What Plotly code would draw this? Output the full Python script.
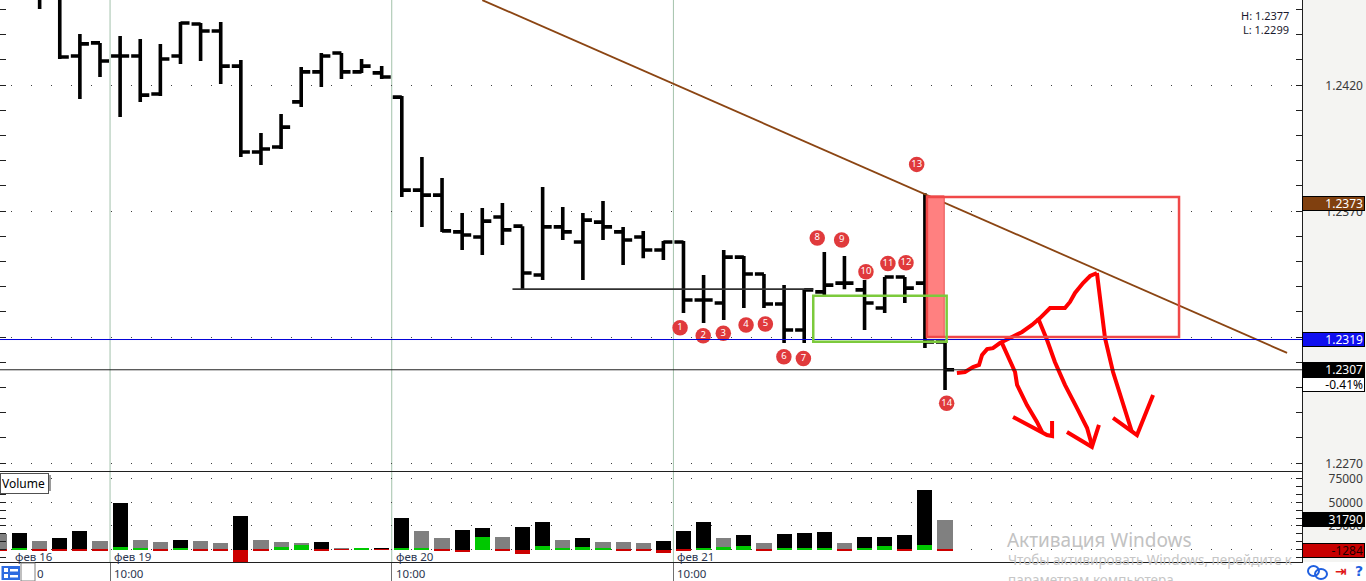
import plotly.graph_objects as go

# ---------------- data ----------------
bar_index = list(range(48))  # hourly bars: фев 16 18:00 ... фев 21 23:00

opens = [1.2458, 1.2460, 1.2458, 1.2457, 1.24315, 1.24367, 1.24315, 1.24315, 1.24164, 1.24315,
         1.24442, 1.24414, 1.24275, 1.23934, 1.23954, 1.24133, 1.24252, 1.24327, 1.24252, 1.24248,
         1.24152, 1.23783, 1.23763, 1.23617, 1.23597, 1.23676, 1.23640, 1.23446, 1.23637, 1.23577,
         1.23656, 1.23617, 1.23597, 1.23545, 1.23577, 1.23347, 1.23335, 1.23517, 1.23450, 1.23331,
         1.23228, 1.23379, 1.23414, 1.23387, 1.23315, 1.23438, 1.23414, 1.23180]
highs = [1.2466, 1.2468, 1.2462, 1.2460, 1.24402, 1.24367, 1.24394, 1.24383, 1.24363, 1.24450,
         1.24446, 1.24450, 1.24299, 1.24010, 1.24085, 1.24271, 1.24327, 1.24327, 1.24303, 1.24275,
         1.24156, 1.23914, 1.23831, 1.23692, 1.23712, 1.23732, 1.23640, 1.23795, 1.23716, 1.23692,
         1.23740, 1.23637, 1.23621, 1.23581, 1.23581, 1.23446, 1.23545, 1.23521, 1.23450, 1.23406,
         1.23390, 1.23537, 1.23521, 1.23426, 1.23438, 1.23438, 1.23770, 1.23180]
lows = [1.2455, 1.2456, 1.24502, 1.24303, 1.24144, 1.24232, 1.24073, 1.24133, 1.24156, 1.24283,
        1.24295, 1.24204, 1.23914, 1.23883, 1.23946, 1.24113, 1.24192, 1.24224, 1.24248, 1.24224,
        1.23756, 1.23637, 1.23617, 1.23545, 1.23525, 1.23565, 1.23390, 1.23426, 1.23585, 1.23426,
        1.23585, 1.23486, 1.23513, 1.23506, 1.23295, 1.23256, 1.23267, 1.23315, 1.23315, 1.23176,
        1.23176, 1.23359, 1.23390, 1.23228, 1.23295, 1.23335, 1.23156, 1.22990]
closes = [1.2460, 1.2458, 1.2456, 1.24311, 1.24363, 1.24295, 1.24315, 1.24160, 1.24303, 1.24446,
          1.24414, 1.24275, 1.23934, 1.23946, 1.24033, 1.24252, 1.24315, 1.24252, 1.24275, 1.24232,
          1.23783, 1.23763, 1.23621, 1.23605, 1.23660, 1.23625, 1.23454, 1.23637, 1.23617, 1.23664,
          1.23637, 1.23585, 1.23545, 1.23577, 1.23347, 1.23347, 1.23517, 1.23450, 1.23331, 1.23228,
          1.23387, 1.23406, 1.23414, 1.23335, 1.23438, 1.23394, 1.23180, 1.23070]

volume = [16300, 17800, 8800, 12000, 19500, 8800, 49700, 9900, 7800, 9900,
          8800, 6700, 35400, 9900, 7800, 6700, 7800, 1400, 1400, 1400,
          33300, 19800, 12000, 20500, 22700, 13100, 23700, 29000, 9900, 12000,
          7800, 7800, 6700, 8800, 19500, 29000, 12000, 15200, 6700, 16300,
          17300, 18400, 6700, 13100, 13100, 15200, 63100, 31790]
volume_colors = ['g', 'k', 'g', 'k', 'k', 'g', 'k', 'g', 'g', 'k',
                 'g', 'g', 'k', 'g', 'g', 'g', 'k', 'g', 'g', 'k',
                 'k', 'g', 'g', 'k', 'k', 'g', 'k', 'k', 'g', 'k',
                 'g', 'g', 'g', 'k', 'k', 'k', 'g', 'k', 'g', 'k',
                 'k', 'k', 'g', 'k', 'k', 'k', 'k', 'g']
delta = [-700, 1800, -700, -700, -1800, -700, 2900, 1800, -700, 1800,
         -700, -700, -15000, -700, 2400, 4600, -700, -400, 1400, -300,
         1800, 2100, -1400, -2400, 13100, -700, -4600, 3500, 1400, 2400,
         1400, -1400, -700, -3500, -1000, 1400, 2400, 3500, -700, 1400,
         1400, 1400, -700, 1400, 3500, -1400, 4600, -1284]

price_tick_vals = [1.2420, 1.2370, 1.2320, 1.2270]
price_tick_text = ['1.2420', '1.2370', '1.2320', '1.2270']
vol_tick_vals = [75000, 50000, 25000]
vol_tick_text = ['75000', '50000', '25000']

day_sep_x = [5.5, 19.5, 33.5]
day_labels = ['фев 16', 'фев 19', 'фев 20', 'фев 21']
day_label_x = [0.6, 5.5, 19.5, 33.5]
time_labels = ['10:00', '10:00', '10:00']

high_text = 'H: 1.2377'
low_text = 'L: 1.2299'
trend_level = 1.2373
blue_level = 1.2319
last_close = 1.2307
change_text = '-0.41%'
last_volume = 31790
last_delta = -1284

trend_x = [24.0, 64.0]
trend_y = [1.24537, 1.23137]
support_x = [25.5, 40.45]
support_y = [1.2339, 1.2339]
green_box_x = [40.45, 47.08]
green_box_y = [1.23181, 1.23364]
pink_box_x = [46.09, 46.96]
pink_box_y = [1.2320, 1.2376]
red_box_x = [46.1, 58.63]
red_box_y = [1.2320, 1.23756]

marker_num = [str(n) for n in range(1, 15)]
marker_x = [33.83, 34.98, 35.98, 37.11, 38.07, 38.99, 39.96, 40.65, 41.86, 43.07, 44.16, 45.06, 45.59, 47.08]
marker_y = [1.23237, 1.23205, 1.23215, 1.23248, 1.23252, 1.23122, 1.23115, 1.23593, 1.23585,
            1.23459, 1.23492, 1.23495, 1.23885, 1.22937]

# hand-drawn red path (index, price)
draw_curve_x = [47.59, 47.99, 48.39, 48.69, 48.84, 49.09, 49.38, 49.73, 50.23, 50.83, 51.32, 51.72,
                52.22, 52.96, 53.21, 53.46, 53.86, 54.21, 54.55]
draw_curve_y = [1.23057, 1.23061, 1.23081, 1.23089, 1.23129, 1.23152, 1.23156, 1.23176, 1.23196,
                1.23220, 1.23248, 1.23275, 1.23315, 1.23315, 1.23339, 1.23375, 1.23414, 1.23442, 1.23454]
arrow1_x = [49.83, 50.08, 50.48, 50.58, 51.07, 51.57, 51.82]
arrow1_y = [1.23176, 1.23129, 1.23061, 1.23010, 1.22930, 1.22863, 1.22823]
head1_x = [50.38, 52.07, 52.32, 52.32]
head1_y = [1.22883, 1.22811, 1.22807, 1.22867]
arrow2_x = [51.62, 52.07, 52.46, 52.96, 53.56, 54.06, 54.30]
arrow2_y = [1.23275, 1.23188, 1.23101, 1.23010, 1.22918, 1.22839, 1.22771]
head2_x = [53.06, 54.30, 54.65]
head2_y = [1.22823, 1.22764, 1.22851]
arrow3_x = [54.55, 54.70, 54.95, 55.35, 55.84, 56.29]
arrow3_y = [1.23454, 1.23355, 1.23196, 1.23061, 1.22942, 1.22823]
head3_x = [55.35, 56.54, 57.34]
head3_y = [1.22879, 1.22811, 1.22970]

watermark_1 = 'Активация Windows'
watermark_2 = 'Чтобы активировать Windows, перейдите к'
watermark_3 = 'параметрам компьютера'

# ---------------- layout geometry ----------------
W, H = 1366, 581
ML, MR, MT, MB = 0, 64, 0, 19
PW, PH = W - ML - MR, H - MT - MB          # 1302 x 562
PRICE_TOP, PRICE_BOT = 0, 471
VOL_TOP, VOL_BOT = 472, 562
price_dom = [(PH - PRICE_BOT) / PH, 1.0]
vol_dom = [0.0, (PH - VOL_TOP) / PH]
x_range = [0.03, 0.03 + PW / 20.12]
price_range = [1.226683, 1.245373]
vol_range = [-13275, 82300]

FONT = 'Noto Sans'


def px(xp):
    return xp / PW


def py(yp):
    return (PH - yp) / PH


fig = go.Figure()

# trend line (behind bars)
fig.add_trace(go.Scatter(x=trend_x, y=trend_y, mode='lines', line=dict(color='#8b4513', width=1.8),
                         hoverinfo='skip', showlegend=False, xaxis='x', yaxis='y'))
fig.add_trace(go.Scatter(x=support_x, y=support_y, mode='lines', line=dict(color='#303030', width=1.6),
                         hoverinfo='skip', showlegend=False, xaxis='x', yaxis='y'))

fig.add_trace(go.Ohlc(x=bar_index, open=opens, high=highs, low=lows, close=closes,
                      increasing=dict(line=dict(color='#000000', width=3.6)),
                      decreasing=dict(line=dict(color='#000000', width=3.6)),
                      tickwidth=0.45, hoverinfo='skip', showlegend=False, xaxis='x', yaxis='y'))

# volume
cmap = {'k': '#000000', 'g': '#808080'}
fig.add_trace(go.Bar(x=bar_index, y=volume, width=0.75,
                     marker=dict(color=[cmap[c] for c in volume_colors], line=dict(width=0)),
                     hoverinfo='skip', showlegend=False, xaxis='x2', yaxis='y2'))
fig.add_trace(go.Bar(x=bar_index, y=delta, width=0.75,
                     marker=dict(color=['#00c800' if d > 0 else '#cc0000' for d in delta], line=dict(width=0)),
                     hoverinfo='skip', showlegend=False, xaxis='x2', yaxis='y2'))

# hand drawing
def join(*parts):
    out = []
    for i, p in enumerate(parts):
        if i:
            out.append(None)
        out.extend(p)
    return out

fig.add_trace(go.Scatter(
    x=join(draw_curve_x, arrow1_x, head1_x, arrow2_x, head2_x, arrow3_x, head3_x),
    y=join(draw_curve_y, arrow1_y, head1_y, arrow2_y, head2_y, arrow3_y, head3_y),
    mode='lines', line=dict(color='#ff0000', width=4), connectgaps=False,
    hoverinfo='skip', showlegend=False, xaxis='x', yaxis='y'))

# numbered markers
fig.add_trace(go.Scatter(x=marker_x, y=marker_y, mode='markers+text', text=marker_num,
                         textposition='middle center',
                         textfont=dict(family=FONT, size=9.5, color='white'),
                         marker=dict(size=15.5, color='#e03a3c', line=dict(width=0)),
                         cliponaxis=False, hoverinfo='skip', showlegend=False, xaxis='x', yaxis='y'))

shapes = []
# right axis area background
shapes.append(dict(type='rect', xref='paper', yref='paper', x0=1, x1=W / PW, y0=0, y1=1,
                   fillcolor='#f4f4f2', line=dict(width=0), layer='below'))
# day separators
for xs in day_sep_x:
    shapes.append(dict(type='line', xref='x', yref='paper', x0=xs, x1=xs, y0=0, y1=1,
                       line=dict(color='#a3c2ab', width=1), layer='below'))
# horizontal levels
shapes.append(dict(type='line', xref='paper', yref='y', x0=0, x1=1, y0=blue_level, y1=blue_level,
                   line=dict(color='#0000d8', width=1), layer='above'))
shapes.append(dict(type='line', xref='paper', yref='y', x0=0, x1=1, y0=last_close, y1=last_close,
                   line=dict(color='#202020', width=1), layer='above'))
# boxes
shapes.append(dict(type='rect', xref='x', yref='y', x0=pink_box_x[0], x1=pink_box_x[1],
                   y0=pink_box_y[0], y1=pink_box_y[1], fillcolor='#ff8080',
                   line=dict(color='#e85050', width=1), layer='above'))
shapes.append(dict(type='rect', xref='x', yref='y', x0=red_box_x[0], x1=red_box_x[1],
                   y0=red_box_y[0], y1=red_box_y[1], line=dict(color='#f04848', width=2.5), layer='above'))
shapes.append(dict(type='rect', xref='x', yref='y', x0=green_box_x[0], x1=green_box_x[1],
                   y0=green_box_y[0], y1=green_box_y[1], line=dict(color='#7cca3c', width=2.5), layer='above'))
# volume label shadow
shapes.append(dict(type='rect', xref='paper', yref='paper', x0=px(2), x1=px(51), y0=py(491), y1=py(475),
                   fillcolor='#9a9a9a', line=dict(width=0), layer='above'))
# bottom-left icons
shapes.append(dict(type='rect', xref='paper', yref='paper', x0=px(21), x1=px(35), y0=py(581), y1=py(563),
                   fillcolor='white', line=dict(color='#808080', width=1), layer='above'))
shapes.append(dict(type='rect', xref='paper', yref='paper', x0=px(1.5), x1=px(20), y0=py(580), y1=py(566),
                   fillcolor='#2d6be0', line=dict(width=0), layer='above'))
for (a, b, c, d) in [(4, 8, 568, 572), (10, 18, 569, 571.5), (4, 8, 574, 578), (10, 18, 575, 577.5)]:
    shapes.append(dict(type='rect', xref='paper', yref='paper', x0=px(a), x1=px(b), y0=py(d), y1=py(c),
                       fillcolor='white', line=dict(width=0), layer='above'))
# bottom-right link icon
shapes.append(dict(type='circle', xref='paper', yref='paper', x0=px(1308), x1=px(1319), y0=py(576), y1=py(566),
                   line=dict(color='#2060e0', width=2), layer='above'))
shapes.append(dict(type='circle', xref='paper', yref='paper', x0=px(1315), x1=px(1327), y0=py(579), y1=py(569),
                   line=dict(color='#2060e0', width=2), layer='above'))

ann = []


def axis_label(y, yref, text, bg='rgba(0,0,0,0)', fg='#3a3a3a', border='rgba(0,0,0,0)', yshift=0):
    return dict(xref='paper', x=1, xanchor='left', yref=yref, y=y, yanchor='middle', yshift=yshift,
                text=text, showarrow=False, width=59, height=11, align='right', valign='middle',
                bgcolor=bg, bordercolor=border, borderwidth=1, borderpad=1,
                font=dict(family=FONT, size=12, color=fg))


for v, t in zip(price_tick_vals, price_tick_text):
    ann.append(axis_label(v, 'y', t))
for v, t in zip(vol_tick_vals, vol_tick_text):
    ann.append(axis_label(v, 'y2', t))
ann.append(axis_label(trend_level, 'y', f'{trend_level:.4f}', bg='#80400f', fg='white', border='#000000'))
ann.append(axis_label(blue_level, 'y', f'{blue_level:.4f}', bg='#1010f0', fg='white', border='#000000'))
ann.append(axis_label(last_close, 'y', f'{last_close:.4f}', bg='#000000', fg='white', border='#000000'))
ann.append(axis_label(last_close, 'y', change_text, bg='white', fg='#000000', border='#000000', yshift=-15))
ann.append(axis_label(last_volume, 'y2', str(last_volume), bg='#000000', fg='white', border='#000000'))
ann.append(axis_label(last_delta, 'y2', str(last_delta), bg='#c80000', fg='#1a0000', border='#000000'))

# H / L
ann.append(dict(xref='paper', x=1, xshift=-11, xanchor='right', yref='paper', y=1, yshift=-15,
                yanchor='middle', text=high_text, showarrow=False,
                font=dict(family=FONT, size=11, color='#1a1a2e')))
ann.append(dict(xref='paper', x=1, xshift=-11, xanchor='right', yref='paper', y=1, yshift=-29,
                yanchor='middle', text=low_text, showarrow=False,
                font=dict(family=FONT, size=11, color='#1a1a2e')))

# Volume title
ann.append(dict(xref='paper', x=0, xanchor='left', yref='paper', y=vol_dom[1], yshift=-1, yanchor='top',
                text='Volume', showarrow=False, bgcolor='white', bordercolor='#505050', borderwidth=1,
                borderpad=1, width=45, align='left', font=dict(family=FONT, size=12, color='#000000')))

# day labels
for xv, t in zip(day_label_x, day_labels):
    ann.append(dict(xref='x', x=xv, xanchor='left', xshift=2, yref='paper', y=0, yshift=6,
                    yanchor='middle', text=t, showarrow=False,
                    font=dict(family=FONT, size=11.5, color='#2b3650')))
# time labels
for xv, t in zip(day_sep_x, time_labels):
    ann.append(dict(xref='x', x=xv, xanchor='left', xshift=2, yref='paper', y=0, yshift=-11,
                    yanchor='middle', text=t, showarrow=False,
                    font=dict(family=FONT, size=11.5, color='#2b3650')))
ann.append(dict(xref='paper', x=0, xshift=35, xanchor='left', yref='paper', y=0, yshift=-11,
                yanchor='middle', text='0', showarrow=False,
                font=dict(family=FONT, size=11.5, color='#2b3650')))

# bottom-right icons
ann.append(dict(xref='paper', x=px(1341), xanchor='center', yref='paper', y=py(571), yanchor='middle',
                text='<b>⇥</b>', showarrow=False, font=dict(family='DejaVu Sans', size=14, color='#e01818')))
ann.append(dict(xref='paper', x=px(1359), xanchor='center', yref='paper', y=py(571), yanchor='middle',
                text='<b>?</b>', showarrow=False, font=dict(family='DejaVu Sans', size=14, color='#2060e0')))

# watermark
ann.append(dict(xref='paper', x=px(1005), xanchor='left', yref='paper', y=py(540), yanchor='middle',
                text=watermark_1, showarrow=False, font=dict(family=FONT, size=19, color='#c2c2c2')))
ann.append(dict(xref='paper', x=px(1006), xanchor='left', yref='paper', y=py(560), yanchor='middle',
                text=watermark_2, showarrow=False, font=dict(family=FONT, size=13.5, color='#c6c6c6')))
ann.append(dict(xref='paper', x=px(1006), xanchor='left', yref='paper', y=py(580), yanchor='middle',
                text=watermark_3, showarrow=False, font=dict(family=FONT, size=13.5, color='#c6c6c6')))

axis_common = dict(showgrid=False, zeroline=False, fixedrange=True)
fig.update_layout(
    width=W, height=H, margin=dict(l=ML, r=MR, t=MT, b=MB, pad=0),
    paper_bgcolor='white', plot_bgcolor='white', barmode='overlay', bargap=0,
    showlegend=False, hovermode=False, font=dict(family=FONT),
    xaxis=dict(domain=[0, 1], range=x_range, anchor='y', showline=True, mirror=True,
               linecolor='#202020', linewidth=1, showticklabels=False, ticks='',
               rangeslider=dict(visible=False), **axis_common),
    xaxis2=dict(domain=[0, 1], range=x_range, anchor='y2', showline=True, linecolor='#202020',
                linewidth=1, tickmode='array', tickvals=day_sep_x, ticks='outside', ticklen=19,
                tickcolor='#707070', showticklabels=False, **axis_common),
    yaxis=dict(domain=price_dom, range=price_range, anchor='x', side='right', showline=True,
               linecolor='#202020', linewidth=1, mirror='ticks', ticks='inside', ticklen=6,
               tickcolor='#202020', tick0=1.2270, dtick=0.005, showticklabels=False,
               showgrid=True, gridcolor='#404040', gridwidth=1, griddash='0px,11px,1px,8px',
               minor=dict(dtick=0.001, ticks='inside', ticklen=6, tickcolor='#202020', showgrid=False),
               zeroline=False, fixedrange=True),
    yaxis2=dict(domain=vol_dom, range=vol_range, anchor='x2', side='right', showline=True,
                linecolor='#202020', linewidth=1, mirror='ticks', ticks='inside', ticklen=6,
                tickcolor='#202020', tick0=0, dtick=25000, showticklabels=False,
                showgrid=True, gridcolor='#404040', gridwidth=1, griddash='0px,11px,1px,8px',
                minor=dict(dtick=25000 / 3, ticks='inside', ticklen=6, tickcolor='#202020', showgrid=False),
                zeroline=False, fixedrange=True),
    shapes=shapes, annotations=ann,
)

fig.write_html('out.html', config={'displayModeBar': False},
               post_script="document.body.style.margin='0px';document.body.style.overflow='hidden';")
